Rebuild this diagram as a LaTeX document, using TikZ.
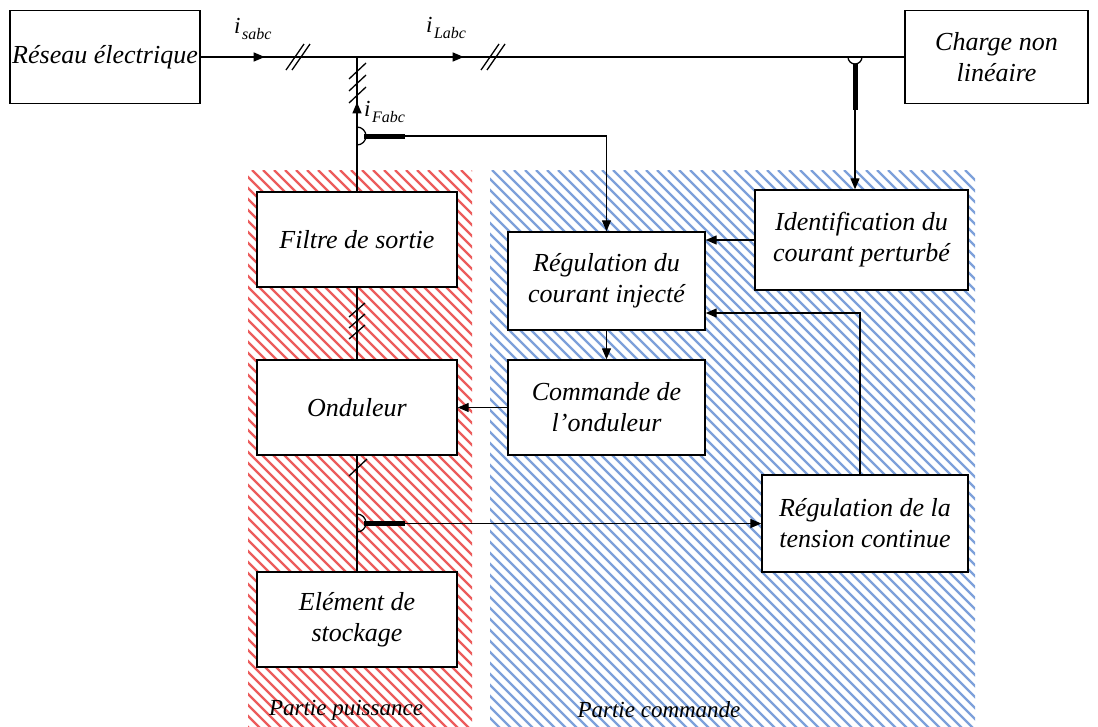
\documentclass[tikz,border=0pt]{standalone}
\usepackage{fontspec}
\setmainfont{Liberation Serif}
\usetikzlibrary{arrows.meta,decorations.markings,calc}
\definecolor{redhatch}{RGB}{236,92,92}
\definecolor{bluehatch}{RGB}{125,160,218}
\tikzset{
  blk/.style={draw=black, line width=1.4pt, fill=white, align=center,
    font=\itshape\fontsize{26}{31}\selectfont, inner sep=0pt},
  wire/.style={line width=1.3pt},
  tip/.tip={Triangle[length=11pt,width=9pt]},
  arr/.style={wire, -tip},
  hashmark/.style={line width=1.3pt},
  sensorbar/.style={line width=5pt},
  zonelbl/.style={font=\itshape\fontsize{23}{26}\selectfont, inner sep=0pt},
  lbl/.style={inner sep=0pt, anchor=base west},
}
\newcommand{\curlbl}[2]{{\fontsize{23}{23}\selectfont\itshape #1}\kern1.5pt\raisebox{-6pt}{\fontsize{16}{16}\selectfont\itshape #2}}
\begin{document}
\begin{tikzpicture}[x=1pt,y=-1pt]
\useasboundingbox (0,0) rectangle (1098,726);
\fill[white] (0,0) rectangle (1098,726);
% hatched zones
\begin{scope}
  \clip (248,170) rectangle (472,726);
  \foreach \x in {-320,-309,...,480} \draw[redhatch, line width=2.2pt] (\x,170) -- ++(600,600);
\end{scope}
\begin{scope}
  \clip (490,170) rectangle (975,726);
  \foreach \x in {-80,-69,...,980} \draw[bluehatch, line width=2.2pt] (\x,170) -- ++(600,600);
\end{scope}
\node[zonelbl] (zp) at (346,710) {Partie puissance};
\node[zonelbl] (zc) at (659,710) {Partie commande};
% blocks
\node[blk, minimum width=190pt, minimum height=93pt] (reseau) at (105,57) {Réseau électrique};
\node[blk, minimum width=183pt, minimum height=93pt] (charge) at (996.5,57) {Charge non\\linéaire};
\node[blk, minimum width=200pt, minimum height=95pt] (filtre) at (357,239.5) {Filtre de sortie};
\node[blk, minimum width=200pt, minimum height=95pt] (ond) at (357,407.5) {Onduleur};
\node[blk, minimum width=200pt, minimum height=95pt] (stock) at (357,619.5) {Elément de\\stockage};
\node[blk, minimum width=197pt, minimum height=98pt] (regc) at (606.5,281) {Régulation du\\courant injecté};
\node[blk, minimum width=197pt, minimum height=95pt] (cmd) at (606.5,407.5) {Commande de\\l’onduleur};
\node[blk, minimum width=213pt, minimum height=100pt] (ident) at (861.5,240) {Identification du\\courant perturbé};
\node[blk, minimum width=206pt, minimum height=97pt] (regt) at (865,523.5) {Régulation de la\\tension continue};
% main line
\coordinate (j) at (357,57);
\draw[wire, postaction={decorate}, decoration={markings,
   mark=at position 64pt with {\arrow{tip}},
   mark=at position 263pt with {\arrow{tip}}}]
   (reseau.east) -- (charge.west);
% hash marks on main line
\foreach \hx in {295,301} \draw[hashmark] (\hx-9,70) -- (\hx+9,44);
\foreach \hx in {490,496} \draw[hashmark] (\hx-9,70) -- (\hx+9,44);
% power branch
\draw[wire, postaction={decorate}, decoration={markings,
   mark=at position 89pt with {\arrow{tip}}}]
   (filtre.north) -- (j);
\foreach \hy in {71,83,95} \draw[hashmark] (349,\hy+8) -- (366,\hy-8);
\draw[wire] (filtre.south) -- (ond.north);
\foreach \hy in {310,321,332} \draw[hashmark] (349,\hy+7) -- (365,\hy-7);
\draw[wire] (ond.south) -- (stock.north);
\draw[hashmark] (349,476) -- (367,459);
% sensor on filter current
\coordinate (sF) at (357,136);
\coordinate (sFa) at (364,136);
\coordinate (sFb) at (405,136);
\draw[wire] (357,127) arc[start angle=90, end angle=-90, radius=9pt];
\draw[sensorbar] (sFa) -- (sFb);
\draw[arr] (sFb) -| (regc.north);
% sensor on load current
\coordinate (sL) at (855,57);
\coordinate (sLa) at (855,64);
\coordinate (sLb) at (855,110);
\draw[wire] (848,57) arc[start angle=180, end angle=360, radius=7pt];
\draw[sensorbar] (sLa) -- (sLb);
\draw[arr] (sLb) -- (sLb |- ident.north);
% sensor on DC voltage
\coordinate (sD) at (357,523);
\coordinate (sDa) at (364,523.5);
\coordinate (sDb) at (405,523.5);
\draw[wire] (357,514) arc[start angle=90, end angle=-90, radius=9pt];
\draw[sensorbar] (sDa) -- (sDb);
\draw[arr] (sDb) -- (regt.west);
% control arrows
\draw[arr] (ident.west) -- (ident.west -| regc.east);
\draw[arr] (regc.south) -- (cmd.north);
\draw[arr] (cmd.west) -- (ond.east);
\draw[arr] ([xshift=-5pt]regt.north) |- ([yshift=-32pt]regc.east);
% current labels
\node[lbl] (lis) at (234,33) {\curlbl{i}{sabc}};
\node[lbl] (lil) at (426,32) {\curlbl{i}{Labc}};
\node[lbl] (lif) at (364,116) {\curlbl{i}{Fabc}};
\end{tikzpicture}
\end{document}
